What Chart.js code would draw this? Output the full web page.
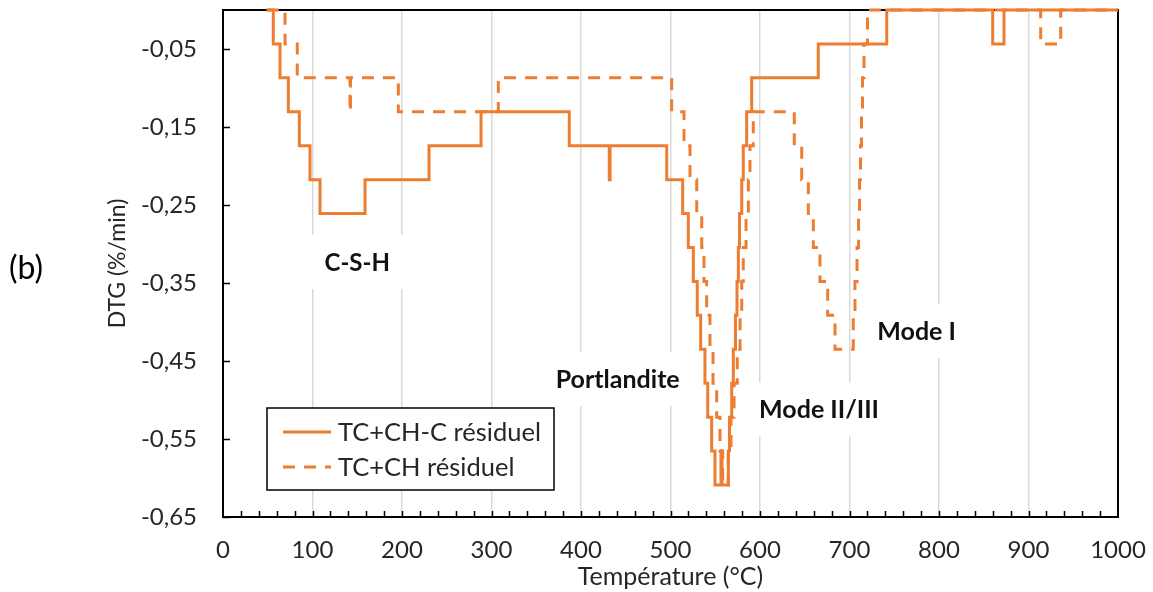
<!DOCTYPE html>
<html><head><meta charset="utf-8">
<script src="https://cdn.jsdelivr.net/npm/chart.js@4/dist/chart.umd.min.js"></script>
<style>html,body{margin:0;padding:0;background:#fff}#wrap{width:1153px;height:592px;position:relative}</style>
</head><body><div id="wrap"><canvas id="c" width="1153" height="592"></canvas></div>
<script>
// ---- data ----
const seriesNames = ['TC+CH-C résiduel', 'TC+CH résiduel'];

// solid series: temperature where each step ends, DTG level held up to it
const solidTemp = [48.8, 56.2, 63.7, 73.0, 85.3, 97.2, 108.4, 158.7, 230.2, 288.3, 386.9, 431.6, 432.5,
  495.8, 513.6, 519.9, 525.5, 529.9, 533.7, 538.5, 541.6, 546.0, 549.7, 556.4, 557.5,
  564.6, 565.9, 568.4, 570.2, 572.6, 574.3, 575.8, 577.1, 579.6, 581.3, 585.1, 590.7,
  665.1, 741.6, 860.0, 872.6, 1000];
const solidDTG = [0, -0.0435, -0.087, -0.1305, -0.174, -0.2175, -0.261, -0.2175, -0.174, -0.1305, -0.174, -0.2175, -0.174,
  -0.2175, -0.261, -0.3045, -0.348, -0.3915, -0.435, -0.4785, -0.522, -0.5655, -0.609, -0.5655, -0.609,
  -0.5655, -0.522, -0.4785, -0.435, -0.3915, -0.348, -0.3045, -0.261, -0.2175, -0.174, -0.1305, -0.087,
  -0.0435, 0, -0.0435, 0, 0];

// dashed series
const dashedTemp = [48.8, 69.3, 83.0, 141.9, 142.5, 195.9, 307.6,
  501.3, 515.1, 521.8, 529.3, 534.9, 537.4, 540.4, 544.1, 547.5, 551.6, 555.3, 558.3,
  564.6, 567.6, 571.0, 574.6, 577.7, 579.6, 581.3, 584.4, 587.0, 588.8, 592.5,
  638.3, 646.6, 654.0, 659.6, 667.0, 675.6, 683.8,
  704.2, 706.1, 708.4, 710.1, 711.2, 712.3, 713.4, 714.5, 716.2, 720.1,
  913.6, 936.0, 1000];
const dashedDTG = [0, -0.0435, -0.087, -0.1305, -0.087, -0.1305, -0.087,
  -0.1305, -0.174, -0.2175, -0.261, -0.3045, -0.348, -0.3915, -0.435, -0.4785, -0.522, -0.5655, -0.609,
  -0.5655, -0.522, -0.4785, -0.435, -0.3915, -0.348, -0.3045, -0.261, -0.2175, -0.174, -0.1305,
  -0.174, -0.2175, -0.261, -0.3045, -0.348, -0.3915, -0.435,
  -0.3915, -0.348, -0.3045, -0.261, -0.2175, -0.174, -0.1305, -0.087, -0.0435, 0,
  -0.0435, 0, 0];

const xTickValues = [0, 100, 200, 300, 400, 500, 600, 700, 800, 900, 1000];
const yTickValues = [-0.65, -0.55, -0.45, -0.35, -0.25, -0.15, -0.05];
const yTickLabels = ['-0,65', '-0,55', '-0,45', '-0,35', '-0,25', '-0,15', '-0,05'];
const noteTexts = ['C-S-H', 'Portlandite', 'Mode II/III', 'Mode I'];
const noteTemp = [150, 441, 666, 775];
const noteDTG = [-0.323, -0.473, -0.512, -0.412];

// ---- styles ----
const ORANGE = '#ED7D31';
const FONT = 'Lato';
const TEXT = '#262626';
const notePad = [22, 6, 6, 6];

const pts = (xs, ys) => xs.map((x, i) => ({x: x, y: ys[i]}));

const decor = {
  id: 'decor',
  beforeDatasetsDraw(chart) {
    const {ctx, chartArea: a, scales: {x, y}} = chart;
    ctx.save();
    ctx.font = 'bold 25px ' + FONT;
    ctx.textAlign = 'center';
    ctx.textBaseline = 'middle';
    noteTexts.forEach((t, i) => {
      const px = x.getPixelForValue(noteTemp[i]);
      const py = y.getPixelForValue(noteDTG[i]);
      const w = ctx.measureText(t).width + 2 * notePad[i];
      ctx.fillStyle = '#fff';
      ctx.fillRect(px - w / 2, py - 27, w, 54);
      ctx.fillStyle = '#111';
      ctx.font = (i === 0 ? 'bold 24px ' : 'bold 25px ') + FONT;
      ctx.fillText(t, px, py + 1);
    });
    ctx.strokeStyle = '#000';
    ctx.lineWidth = 2;
    ctx.strokeRect(a.left, a.top, a.right - a.left, a.bottom - a.top);
    ctx.lineWidth = 1.5;
    ctx.beginPath();
    yTickValues.forEach(v => {
      const py = Math.round(y.getPixelForValue(v)) + 0.5;
      ctx.moveTo(a.left, py); ctx.lineTo(a.left + 7, py);
    });
    for (let t = 20; t < 1000; t += 20) {
      const px = Math.round(x.getPixelForValue(t)) + 0.5;
      ctx.moveTo(px, a.bottom); ctx.lineTo(px, a.bottom - 6);
    }
    ctx.stroke();
    ctx.restore();
  },
  afterDraw(chart) {
    const {ctx} = chart;
    ctx.save();
    ctx.fillStyle = '#000';
    ctx.font = '32px ' + FONT;
    ctx.textAlign = 'left';
    ctx.textBaseline = 'middle';
    ctx.fillText('(b)', 9, 269);
    const L = 267, T = 408, W = 287, H = 82;
    ctx.fillStyle = '#fff';
    ctx.fillRect(L, T, W, H);
    ctx.strokeStyle = '#000';
    ctx.lineWidth = 1.5;
    ctx.strokeRect(L, T, W, H);
    chart.data.datasets.forEach((ds, i) => {
      const yy = T + 24 + i * 35;
      ctx.strokeStyle = ds.borderColor;
      ctx.lineWidth = ds.borderWidth;
      ctx.setLineDash(ds.borderDash || []);
      ctx.beginPath();
      ctx.moveTo(L + 16, yy); ctx.lineTo(L + 64, yy);
      ctx.stroke();
      ctx.setLineDash([]);
      ctx.fillStyle = TEXT;
      ctx.font = '25.5px ' + FONT;
      ctx.fillText(ds.label, L + 71, yy + 1);
    });
    ctx.restore();
  }
};

new Chart(document.getElementById('c'), {
  type: 'line',
  data: {
    datasets: [
      {label: seriesNames[0], data: pts(solidTemp, solidDTG), borderColor: ORANGE, borderWidth: 3,
       stepped: 'before', pointRadius: 0, fill: false, clip: false},
      {label: seriesNames[1], data: pts(dashedTemp, dashedDTG), borderColor: ORANGE, borderWidth: 3,
       borderDash: [12, 9], stepped: 'before', pointRadius: 0, fill: false, clip: false}
    ]
  },
  options: {
    responsive: false,
    animation: false,
    devicePixelRatio: 1,
    layout: {padding: {left: 0, right: 35, top: 10, bottom: 0}},
    plugins: {legend: {display: false}, tooltip: {enabled: false}},
    scales: {
      x: {
        type: 'linear', min: 0, max: 1000,
        afterBuildTicks: s => { s.ticks = xTickValues.map(v => ({value: v})); },
        afterFit: s => { s.height = 75; s.paddingLeft = 0; s.paddingRight = 0; },
        grid: {color: '#d9d9d9', lineWidth: 1.5, drawTicks: false},
        border: {display: false},
        ticks: {padding: 19, color: TEXT, font: {family: FONT, size: 24}, maxRotation: 0,
                callback: v => String(v)},
        title: {display: true, text: 'Température (°C)', color: TEXT, font: {family: FONT, size: 25},
                padding: {top: 0, bottom: 0}}
      },
      y: {
        type: 'linear', min: -0.65, max: 0,
        afterBuildTicks: s => { s.ticks = yTickValues.map(v => ({value: v})); },
        afterFit: s => { s.width = 223; s.paddingTop = 0; s.paddingBottom = 0; },
        grid: {display: false, drawTicks: false},
        border: {display: false},
        ticks: {padding: 26, color: TEXT, font: {family: FONT, size: 24},
                callback: v => { const i = yTickValues.findIndex(t => Math.abs(t - v) < 1e-9); return i >= 0 ? yTickLabels[i] : ''; }},
        title: {display: true, text: 'DTG (%/min)', color: TEXT, font: {family: FONT, size: 23},
                padding: {top: 104, bottom: 0}}
      }
    }
  },
  plugins: [decor]
});
</script>
</body></html>
